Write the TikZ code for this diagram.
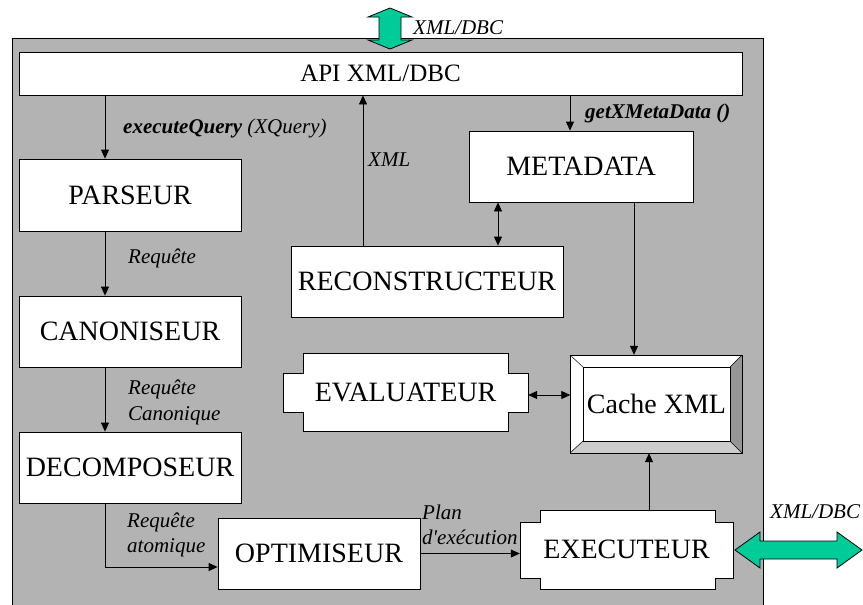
\documentclass[tikz,border=0pt]{standalone}
\usepackage{fontspec}
\setmainfont{Liberation Serif}
\usetikzlibrary{arrows.meta}
\definecolor{bggray}{RGB}{179,179,179}
\definecolor{arrgreen}{RGB}{0,204,153}
\definecolor{bevdark}{RGB}{150,150,150}
\definecolor{bevlight}{RGB}{204,204,204}
\begin{document}
\begin{tikzpicture}[x=1pt,y=-1pt,
  box/.style={draw=black, fill=white, line width=0.8pt, inner sep=0pt, font=\fontsize{28}{30}\selectfont},
  plain/.style={inner sep=0pt, font=\fontsize{28}{30}\selectfont},
  lbl/.style={inner sep=0pt, anchor=west, font=\fontsize{21}{25.5}\selectfont\itshape, align=left},
  arr/.style={line width=0.8pt, -{Triangle[length=9pt,width=8pt]}},
  darr/.style={line width=0.8pt, {Triangle[length=9pt,width=8pt]}-{Triangle[length=9pt,width=8pt]}},
  outl/.style={draw=black, line width=0.8pt},
]
\useasboundingbox (0,0) rectangle (863,605);
% background panel
\fill[bggray] (12,38) rectangle (763,610);
\draw[line width=0.8pt] (12,610) -- (12,38) -- (763,38) -- (763,610);

% boxes
\node[box, minimum width=723pt, minimum height=43pt, font=\fontsize{25}{27}\selectfont] (api) at (380.5,73.5) {API XML/DBC};
\node[box, minimum width=222pt, minimum height=72pt] (parseur) at (130,195) {PARSEUR};
\node[box, minimum width=222pt, minimum height=71pt] (canon) at (130,331.5) {CANONISEUR};
\node[box, minimum width=222pt, minimum height=71pt] (decomp) at (130,467.5) {DECOMPOSEUR};
\node[box, minimum width=202pt, minimum height=71pt] (optim) at (319,553.5) {OPTIMISEUR};
\node[box, minimum width=224pt, minimum height=71pt] (meta) at (581,166.5) {METADATA};
\node[box, minimum width=272pt, minimum height=71pt] (recon) at (427,281.5) {RECONSTRUCTEUR};

% EVALUATEUR notched shape
\draw[outl, fill=white] (303,353) -- (508,353) -- (508,373) -- (528,373) -- (528,412) -- (508,412) -- (508,431) -- (303,431) -- (303,412) -- (283,412) -- (283,373) -- (303,373) -- cycle;
\node[plain, minimum width=245pt, minimum height=78pt] (eval) at (405.5,392) {EVALUATEUR};

% EXECUTEUR notched shape
\draw[outl, fill=white] (540,510) -- (715,510) -- (715,522) -- (733,522) -- (733,578) -- (715,578) -- (715,589) -- (540,589) -- (540,578) -- (520,578) -- (520,522) -- (540,522) -- cycle;
\node[plain, minimum width=213pt, minimum height=79pt] (exec) at (626.5,549.5) {EXECUTEUR};

% Cache XML bevelled box
\fill[white] (570,355) rectangle (742,453);
\fill[bevdark] (742,355) -- (730,367) -- (730,441) -- (742,453) -- cycle;
\fill[bevlight] (570,453) -- (583,441) -- (730,441) -- (742,453) -- cycle;
\draw[outl] (570,355) rectangle (742,453);
\draw[outl] (583,367) rectangle (730,441);
\draw[line width=0.5pt] (570,355) -- (583,367) (742,355) -- (730,367) (570,453) -- (583,441) (742,453) -- (730,441);
\node[plain, minimum width=172pt, minimum height=98pt] (cache) at (656.5,404) {Cache XML};

% helper coordinates for connector lines
\coordinate (xL) at (105,0);
\coordinate (xM) at (570,0);
\coordinate (xR) at (363,0);
\coordinate (xMR) at (498,0);
\coordinate (xMC) at (634,0);
\coordinate (xEC) at (649,0);
\coordinate (yA) at (0,567);
\coordinate (yE) at (0,395);

% connectors
\draw[arr] (xL |- api.south) -- (xL |- parseur.north);
\draw[arr] (xL |- parseur.south) -- (xL |- canon.north);
\draw[arr] (xL |- canon.south) -- (xL |- decomp.north);
\draw[arr] (xL |- decomp.south) |- (optim.west |- yA);
\draw[arr] (optim.east) -- (exec.west |- optim.east);
\draw[arr] (xEC |- exec.north) -- (xEC |- cache.south);
\draw[darr] (eval.east |- yE) -- (cache.west |- yE);
\draw[arr] (xMC |- meta.south) -- (xMC |- cache.north);
\draw[arr] (xM |- api.south) -- (xM |- meta.north);
\draw[arr] (xR |- recon.north) -- (xR |- api.south);
\draw[darr] (xMR |- meta.south) -- (xMR |- recon.north);

% external double arrows
\draw[outl, fill=arrgreen] (390,8) -- (412,17) -- (401,17) -- (401,40) -- (412,40) -- (390,49) -- (368,40) -- (379,40) -- (379,17) -- (368,17) -- cycle;
\draw[outl, fill=arrgreen] (735,550) -- (760,532) -- (760,541) -- (837,541) -- (837,532) -- (862,550) -- (837,568) -- (837,559) -- (760,559) -- (760,568) -- cycle;

% labels
\node[lbl] (ltop) at (413,28) {XML/DBC};
\node[lbl] (lright) at (770,512) {XML/DBC};
\node[lbl] (lq) at (123,128) {\textbf{executeQuery} (XQuery)};
\node[lbl] (lxml) at (368,160) {XML};
\node[lbl] (lmeta) at (585,113) {\textbf{getXMetaData ()}};
\node[lbl] (lreq1) at (128,258) {Requête};
\node[lbl] (lreq2) at (128,402.5) {Requête\\Canonique};
\node[lbl] (lreq3) at (127,535) {Requête\\atomique};
\node[lbl] (lplan) at (422,525) {Plan\\d\textquotesingle exécution};
\end{tikzpicture}
\end{document}
